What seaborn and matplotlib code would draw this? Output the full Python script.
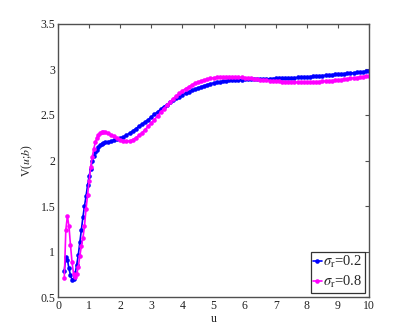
import numpy as np
import pandas as pd
import matplotlib
matplotlib.use("Agg")
import matplotlib.pyplot as plt
import seaborn as sns
from matplotlib.ticker import FuncFormatter

# u grid: fine near the start, coarser afterwards
u_fine = [0.2, 0.25, 0.3, 0.35, 0.4, 0.45, 0.5, 0.55, 0.6, 0.65, 0.7, 0.75, 0.8,
          0.85, 0.9, 0.95, 1.0, 1.05, 1.1, 1.15, 1.2, 1.25, 1.3, 1.35, 1.4, 1.45, 1.5]
u_coarse = [1.6, 1.7, 1.8, 1.9, 2.0, 2.1, 2.2, 2.3, 2.4, 2.5,
            2.6, 2.7, 2.8, 2.9, 3.0, 3.1, 3.2, 3.3, 3.4, 3.5,
            3.6, 3.7, 3.8, 3.9, 4.0, 4.1, 4.2, 4.3, 4.4, 4.5,
            4.6, 4.7, 4.8, 4.9, 5.0, 5.1, 5.2, 5.3, 5.4, 5.5,
            5.6, 5.7, 5.8, 5.9, 6.0, 6.1, 6.2, 6.3, 6.4, 6.5,
            6.6, 6.7, 6.8, 6.9, 7.0, 7.1, 7.2, 7.3, 7.4, 7.5,
            7.6, 7.7, 7.8, 7.9, 8.0, 8.1, 8.2, 8.3, 8.4, 8.5,
            8.6, 8.7, 8.8, 8.9, 9.0, 9.1, 9.2, 9.3, 9.4, 9.5,
            9.6, 9.7, 9.8, 9.9, 10.0]
u_vals = u_fine + u_coarse

v_sigma02 = [0.79, 0.935, 0.91, 0.815, 0.74, 0.69, 0.70, 0.76, 0.855, 0.96,
             1.10, 1.24, 1.38, 1.50, 1.61, 1.73, 1.83, 1.91, 2.00, 2.05,
             2.09, 2.12, 2.145, 2.165, 2.18, 2.19, 2.20,
             2.205, 2.213, 2.222, 2.233, 2.245, 2.26, 2.28, 2.30, 2.325, 2.35,
             2.375, 2.40, 2.425, 2.45, 2.48, 2.508, 2.536, 2.563, 2.59, 2.615,
             2.64, 2.662, 2.683, 2.703, 2.722, 2.74, 2.755, 2.77, 2.784, 2.797,
             2.81, 2.822, 2.833, 2.843, 2.852, 2.859, 2.865, 2.870, 2.875, 2.879,
             2.882, 2.885, 2.887, 2.889, 2.891, 2.892, 2.893, 2.894, 2.895, 2.896,
             2.897, 2.898, 2.899, 2.90, 2.901, 2.902, 2.903, 2.905, 2.906, 2.908,
             2.91, 2.912, 2.914, 2.916, 2.918, 2.921, 2.924, 2.927, 2.93, 2.933,
             2.936, 2.939, 2.942, 2.945, 2.948, 2.951, 2.954, 2.957, 2.96, 2.963,
             2.967, 2.971, 2.975, 2.979, 2.983]

v_sigma08 = [0.705, 1.24, 1.39, 1.28, 1.07, 0.88, 0.75, 0.725, 0.75, 0.83,
             0.95, 1.06, 1.15, 1.28, 1.47, 1.62, 1.78, 1.93, 2.04, 2.13,
             2.20, 2.25, 2.28, 2.30, 2.312, 2.315, 2.31,
             2.30, 2.285, 2.265, 2.245, 2.228, 2.215, 2.21, 2.215, 2.23, 2.25,
             2.275, 2.305, 2.34, 2.375, 2.41, 2.45, 2.49, 2.53, 2.57, 2.61,
             2.645, 2.68, 2.71, 2.74, 2.765, 2.79, 2.81, 2.83, 2.848, 2.862,
             2.875, 2.886, 2.895, 2.903, 2.909, 2.914, 2.917, 2.919, 2.92, 2.92,
             2.919, 2.917, 2.915, 2.912, 2.909, 2.905, 2.901, 2.897, 2.893, 2.889,
             2.885, 2.881, 2.878, 2.875, 2.872, 2.869, 2.867, 2.865, 2.863, 2.862,
             2.861, 2.860, 2.860, 2.860, 2.861, 2.862, 2.863, 2.865, 2.867, 2.869,
             2.872, 2.875, 2.878, 2.881, 2.885, 2.889, 2.893, 2.897, 2.901, 2.906,
             2.911, 2.916, 2.921, 2.926, 2.932]

series_labels = [r'$\sigma_{\mathrm{r}}$=0.2', r'$\sigma_{\mathrm{r}}$=0.8']
series_colors = ['#0000ff', '#ff00ff']
x_ticks = [0, 1, 2, 3, 4, 5, 6, 7, 8, 9, 10]
y_ticks = [0.5, 1.0, 1.5, 2.0, 2.5, 3.0, 3.5]

sns.set_theme(style="white")
plt.rcParams['font.family'] = ['Liberation Serif', 'DejaVu Serif']
plt.rcParams['mathtext.fontset'] = 'stix'

fig = plt.figure(figsize=(4.06, 3.33), dpi=100)
ax = fig.add_axes([0.143, 0.108, 0.766, 0.820])

for vals, lab, col in zip([v_sigma02, v_sigma08], series_labels, series_colors):
    df = pd.DataFrame({'u': u_vals, 'V': vals})
    sns.lineplot(data=df, x='u', y='V', ax=ax, color=col, marker='o',
                 markersize=3.3, markeredgewidth=0, linewidth=1.2,
                 sort=False, label=lab)

ax.set_xlim(0, 10)
ax.set_ylim(0.5, 3.5)
ax.set_xticks(x_ticks)
ax.set_yticks(y_ticks)
fmt = FuncFormatter(lambda v, p: f'{v:g}')
ax.xaxis.set_major_formatter(fmt)
ax.yaxis.set_major_formatter(fmt)

edge = '#505050'
for s in ax.spines.values():
    s.set_color(edge)
    s.set_linewidth(1.0)
ax.tick_params(direction='in', length=3, width=0.8, color=edge,
               top=True, right=True, labelsize=8.5, labelcolor='#222222', pad=2)
ax.set_xlabel('u', fontsize=8.5, color='#222222', labelpad=1)
ax.set_ylabel(r'V($u$;$b$)', fontsize=8.5, color='#222222', labelpad=4)

leg = ax.legend(loc='lower right', fontsize=10.5, frameon=True, fancybox=False,
                handlelength=0.6, handletextpad=0.1, borderpad=0.15,
                labelspacing=0.3, borderaxespad=0.3)
leg.get_frame().set_edgecolor('black')
leg.get_frame().set_linewidth(0.9)

fig.savefig('out.png', dpi=100)
